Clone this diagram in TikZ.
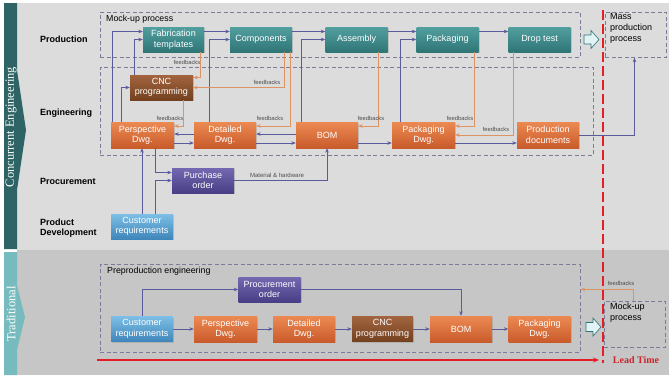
\documentclass[tikz,border=0pt]{standalone}
\usepackage{fontspec}
\setmainfont{Liberation Sans}
\newfontfamily\serifb{Liberation Serif}
\usetikzlibrary{arrows.meta,calc,shadows}
\definecolor{bgtop}{HTML}{DCDCDC}
\definecolor{bgbot}{HTML}{C6C6C6}
\definecolor{bandark}{HTML}{2E6466}
\definecolor{banlight}{HTML}{78BBBE}
\definecolor{tealT}{HTML}{529FA0}
\definecolor{tealB}{HTML}{2F7576}
\definecolor{orT}{HTML}{EC8A52}
\definecolor{orB}{HTML}{C95B2B}
\definecolor{brT}{HTML}{A2643F}
\definecolor{brB}{HTML}{74411F}
\definecolor{puT}{HTML}{7469B0}
\definecolor{puB}{HTML}{473E85}
\definecolor{cuT}{HTML}{7CBEE5}
\definecolor{cuB}{HTML}{3F86BA}
\definecolor{flowc}{HTML}{5B5B9C}
\definecolor{fbc}{HTML}{DE9363}
\definecolor{dashc}{HTML}{7C7C9A}
\definecolor{leadred}{HTML}{E41E26}
\definecolor{leadtxt}{HTML}{C8262C}
\definecolor{hollowf}{HTML}{E2F3F6}
\begin{document}
\begin{tikzpicture}[x=1pt,y=-1pt,
  box/.style={rectangle, minimum width=62pt, minimum height=25pt, inner sep=1pt,
    align=center, text=white, font=\fontsize{9}{10.5}\selectfont,
    drop shadow={opacity=0.3, shadow xshift=1pt, shadow yshift=-1pt}},
  prod/.style={box, top color=tealT, bottom color=tealB},
  eng/.style={box, top color=orT, bottom color=orB, minimum height=26pt},
  cncbox/.style={box, top color=brT, bottom color=brB},
  purp/.style={box, top color=puT, bottom color=puB},
  cust/.style={box, top color=cuT, bottom color=cuB},
  flow/.style={draw=flowc, line width=0.75pt, -{Stealth[length=4.5pt,width=3.6pt]}},
  fb/.style={draw=fbc, line width=0.7pt, -{Stealth[length=4.5pt,width=3.6pt]}},
  fbl/.style={font=\fontsize{5.8}{6}\selectfont, text=black!70, inner sep=0.5pt},
  dbox/.style={draw=dashc, dash pattern=on 4pt off 2.5pt, line width=0.7pt, inner sep=0pt, anchor=north west},
  rowlab/.style={font=\bfseries\fontsize{9}{10.5}\selectfont, anchor=west, align=left, inner sep=0pt},
  title/.style={font=\fontsize{8.8}{10.5}\selectfont, anchor=north west, align=left, inner sep=0pt},
  banner/.style={rotate=90, text=white, inner sep=0pt, font=\serifb\fontsize{12.5}{13}\selectfont}]
\useasboundingbox (0,0) rectangle (671,375);
% backgrounds
\fill[white] (0,0) rectangle (671,375);
\fill[bgtop] (17,3) rectangle (669,250);
\fill[bgbot] (17,250) rectangle (669,375);
\fill[bandark] (4,3) -- (17,3) -- (17,70) -- (26,130) -- (17,190) -- (17,249) -- (4,249) -- cycle;
\fill[banlight] (4,252) -- (17,252) -- (17,285) -- (25,317) -- (17,350) -- (17,375) -- (4,375) -- cycle;
\node[banner] (ban1) at (11,127) {Concurrent Engineering};
\node[banner] (ban2) at (11,314) {Traditional};
% row labels
\node[rowlab] (lprod) at (40,39) {Production};
\node[rowlab] (leng) at (40,113) {Engineering};
\node[rowlab] (lproc) at (40,181) {Procurement};
\node[rowlab] (lpd) at (40,228) {Product\\Development};
% dashed groups
\node[dbox, minimum width=480pt, minimum height=45pt] (mock) at (100,12) {};
\node[title] (mocklab) at (106,14.5) {Mock-up process};
\node[dbox, minimum width=493pt, minimum height=88pt] (engg) at (100,67) {};
\node[dbox, minimum width=61pt, minimum height=45pt] (mass) at (605,12) {};
\node[title, font=\fontsize{9}{11}\selectfont] (masst) at (610,13.5) {Mass\\production\\process};
\node[dbox, minimum width=480pt, minimum height=88pt] (pre) at (100,264) {};
\node[title] (prelab) at (107,267) {Preproduction engineering};
\node[dbox, minimum width=61pt, minimum height=46pt] (bmock) at (604,301) {};
\node[title, font=\fontsize{9}{11}\selectfont] (bmockt) at (610,303) {Mock-up\\process};
% production row
\node[prod, minimum width=61pt] (fab) at (173.5,39.5) {Fabrication\\templates};
\node[prod] (comp) at (261,39.5) {Components};
\node[prod] (asm) at (356.5,39.5) {Assembly};
\node[prod] (pack) at (447.5,39.5) {Packaging};
\node[prod] (drop) at (539.5,39.5) {Drop test};
% engineering
\node[cncbox, minimum width=63pt] (cnc) at (161.5,87.5) {CNC\\programming};
\node[eng, minimum width=63pt] (persp) at (142.5,135) {Perspective\\Dwg.};
\node[eng] (det) at (225,135) {Detailed\\Dwg.};
\node[eng] (bom) at (327,135) {BOM};
\node[eng, minimum width=63pt] (pdwg) at (423.5,135) {Packaging\\Dwg.};
\node[eng] (pdoc) at (548,135) {Production\\documents};
% procurement / product development
\node[purp] (po) at (203,180.5) {Purchase\\order};
\node[cust] (cust) at (142,226.5) {Customer\\requirements};
% traditional
\node[cust] (bcust) at (142,329) {Customer\\requirements};
\node[eng, minimum width=63pt] (bpersp) at (225.5,329) {Perspective\\Dwg.};
\node[eng] (bdet) at (304,329) {Detailed\\Dwg.};
\node[cncbox, minimum width=61pt] (bcnc) at (382.5,329) {CNC\\programming};
\node[eng] (bbom) at (461,329) {BOM};
\node[eng] (bpdwg) at (539.5,329) {Packaging\\Dwg.};
\node[purp] (bproc) at (269.5,289.5) {Procurement\\order};
% production flow
\draw[flow] ([yshift=8pt]fab.east) -- ([yshift=8pt]comp.west);
\draw[flow] ([yshift=8pt]comp.east) -- ([yshift=8pt]asm.west);
\draw[flow] ([yshift=8pt]asm.east) -- ([yshift=8pt]pack.west);
\draw[flow] ([yshift=8pt]pack.east) -- ([yshift=8pt]drop.west);
\draw[flow] ([xshift=2pt]persp.north west) |- ([yshift=8pt]fab.west);
\draw[flow] ([xshift=5pt]cnc.north west) |- (fab.west);
\draw[flow] ([xshift=11pt]persp.north west) |- (cnc.west);
\draw[flow] ([xshift=16pt]det.north west) |- (comp.west);
\draw[flow] ([xshift=6pt]bom.north west) |- (asm.west);
\draw[flow] ([xshift=9pt]pdwg.north west) |- (pack.west);
% engineering flow
\draw[flow] ([yshift=-8pt]persp.east) -- ([yshift=-8pt]det.west);
\draw[flow] ([yshift=1pt]det.west) -- ([yshift=1pt]persp.east);
\draw[flow] ([yshift=-8pt]det.east) -- ([yshift=-8pt]bom.west);
\draw[flow] ([yshift=1pt]bom.west) -- ([yshift=1pt]det.east);
\draw[flow] ([yshift=-8pt]bom.east) -- ([yshift=-8pt]pdwg.west);
\draw[flow] ([yshift=-8pt]pdwg.east) -- ([yshift=-8pt]pdoc.west);
\draw[flow] (pdoc.east) -| (mass.south -| 634.5,0);
% procurement flow
\draw[flow] (cust.north) -- (cust.north |- persp.south);
\draw[flow] ([xshift=13pt]cust.north) |- (po.west);
\draw[flow] ([xshift=12.5pt]persp.south) |- ([yshift=8pt]po.west);
\draw[flow] (po.east) -| (bom.south);
\node[fbl, font=\fontsize{6}{7}\selectfont] (mat) at (277,175) {Material \& hardware};
% feedbacks
\draw[fb] ([xshift=-4pt]fab.south east) |- ([yshift=10pt]cnc.east);
\draw[fb] ([xshift=-8pt]comp.south east) |- (cnc.east);
\draw[fb] ([xshift=-2pt]comp.south east) |- ([yshift=9pt]det.east);
\draw[fb] ([xshift=-10pt]cnc.south east) |- ([yshift=9pt]persp.east);
\draw[fb] ([xshift=-9pt]asm.south east) |- ([yshift=9pt]bom.east);
\draw[fb] ([xshift=-4pt]pack.south east) |- ([yshift=9pt]pdwg.east);
\draw[fb] ([xshift=5pt]drop.south west) |- (pdwg.east);
\node[fbl] (f1) at (187,62) {feedbacks};
\node[fbl] (f2) at (267,82.5) {feedbacks};
\node[fbl] (f3) at (170,118.5) {feedbacks};
\node[fbl] (f4) at (270,118.5) {feedbacks};
\node[fbl] (f5) at (371,118.5) {feedbacks};
\node[fbl] (f6) at (460,118.5) {feedbacks};
\node[fbl] (f7) at (496,129.5) {feedbacks};
% traditional flow
\draw[flow] (bcust) -- (bpersp);
\draw[flow] (bpersp) -- (bdet);
\draw[flow] (bdet) -- (bcnc);
\draw[flow] (bcnc) -- (bbom);
\draw[flow] (bbom) -- (bpdwg);
\draw[flow] (bcust.north) |- (bproc.west);
\draw[flow] (bproc.east) -| (bbom.north);
\draw[fb] ([xshift=-2pt]bmock.north) |- ([yshift=19pt]pre.east);
\node[fbl] (f8) at (621,283) {feedbacks};
% hollow arrows
\filldraw[fill=hollowf, draw=tealB, line width=0.6pt] (584,35) -- (591,35) -- (591,30.5) -- (599,39.5) -- (591,48.5) -- (591,44) -- (584,44) -- cycle;
\filldraw[fill=hollowf, draw=tealB, line width=0.6pt] (586,322.5) -- (593,322.5) -- (593,318) -- (601,327) -- (593,336) -- (593,331.5) -- (586,331.5) -- cycle;
% lead time
\draw[leadred, line width=2pt, dash pattern=on 10pt off 4pt] (603,10) -- (603,363);
\coordinate (ls) at (97,360);
\coordinate (le) at (599,360);
\draw[leadred, line width=1.1pt, -{Stealth[length=6pt,width=5pt]}] (ls) -- (le);
\node[text=leadtxt, font=\serifb\bfseries\fontsize{10}{12}\selectfont, inner sep=0pt] (lead) at (636,360) {Lead Time};
\end{tikzpicture}
\end{document}
